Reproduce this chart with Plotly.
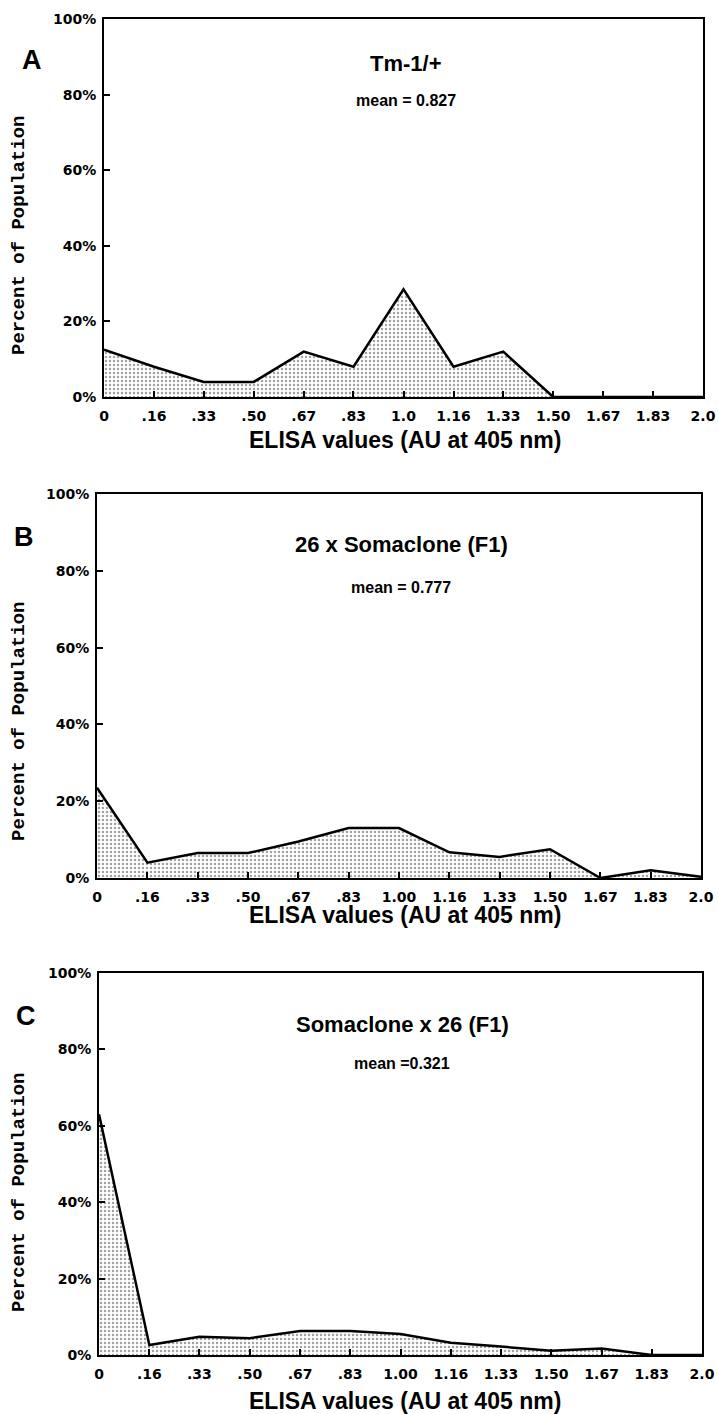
import plotly.graph_objects as go

# ---- data ----
elisa_x = [0, 0.167, 0.333, 0.5, 0.667, 0.833, 1.0, 1.167, 1.333, 1.5, 1.667, 1.833, 2.0]
ticks_A = ["0", ".16", ".33", ".50", ".67", ".83", "1.0", "1.16", "1.33", "1.50", "1.67", "1.83", "2.0"]
ticks_BC = ["0", ".16", ".33", ".50", ".67", ".83", "1.00", "1.16", "1.33", "1.50", "1.67", "1.83", "2.0"]
pct_A = [12.5, 8, 4, 4, 12, 8, 28.5, 8, 12, 0, 0, 0, 0]
pct_B = [23.5, 4, 6.5, 6.5, 9.5, 13, 13, 6.7, 5.5, 7.5, 0, 2, 0.3]
pct_C = [63, 2.6, 4.8, 4.4, 6.3, 6.3, 5.5, 3.2, 2.2, 1.1, 1.7, 0, 0]
y_ticks = [0, 20, 40, 60, 80, 100]
titles = ["Tm-1/+", "26 x Somaclone (F1)", "Somaclone x 26 (F1)"]
means = ["mean = 0.827", "mean = 0.777", "mean =0.321"]
letters = ["A", "B", "C"]

W, H = 719, 1414
# plot boxes in pixels: (left, right, top, bottom)
boxes = [(104, 703, 19, 397), (97, 701, 494, 878), (99, 702, 973, 1355)]
series = [pct_A, pct_B, pct_C]
tick_sets = [ticks_A, ticks_BC, ticks_BC]

def px_x(v):
    return v / W

def px_y(v):
    return 1 - v / H

fig = go.Figure()
layout = dict(width=W, height=H, margin=dict(l=0, r=0, t=0, b=0, autoexpand=False),
              paper_bgcolor="white", plot_bgcolor="white", showlegend=False)
annotations = []
tickfont = dict(family="DejaVu Sans", size=14, color="black", weight="bold")

def note(text, x, y, size, family="Liberation Sans", angle=0):
    annotations.append(dict(text=text, x=px_x(x), y=px_y(y), xref="paper", yref="paper",
                            xanchor="center", yanchor="middle", showarrow=False, textangle=angle,
                            font=dict(family=family, size=size, color="black", weight="bold")))

title_y = [63, 545, 1024]
mean_y = [101, 588, 1063]
letter_xy = [(32, 60), (24, 537), (26, 1016)]
xtitle_y = [440, 915, 1401]
ytitle_y = [236, 722, 1193]

for i, (box, ys, tt) in enumerate(zip(boxes, series, tick_sets)):
    l, r, t, b = box
    n = "" if i == 0 else str(i + 1)
    fig.add_trace(go.Scatter(
        x=elisa_x, y=ys, mode="lines", fill="tozeroy",
        line=dict(color="black", width=2.5),
        fillcolor="white",
        fillpattern=dict(shape=".", fgcolor="#444444", bgcolor="white", size=4, solidity=0.3),
        xaxis="x" + n, yaxis="y" + n, hoverinfo="skip"))
    layout["xaxis" + n] = dict(
        domain=[px_x(l), px_x(r)], anchor="y" + n, range=[0, 2],
        tickmode="array", tickvals=elisa_x, ticktext=tt,
        ticks="inside", ticklen=6, tickwidth=1.5, tickcolor="black",
        showline=True, linewidth=2, linecolor="black", mirror=True,
        showgrid=False, zeroline=False, tickfont=tickfont, ticklabelstandoff=5)
    layout["yaxis" + n] = dict(
        domain=[px_y(b), px_y(t)], anchor="x" + n, range=[0, 100],
        tickmode="array", tickvals=y_ticks, ticktext=[f"{v}%" for v in y_ticks],
        ticks="inside", ticklen=6, tickwidth=1.5, tickcolor="black",
        showline=True, linewidth=2, linecolor="black", mirror=True,
        showgrid=False, zeroline=False, tickfont=tickfont, ticklabelstandoff=3)
    cx = (l + r) / 2 + 2
    note(titles[i], cx, title_y[i], 22)
    note(means[i], cx, mean_y[i], 16)
    note(letters[i], letter_xy[i][0], letter_xy[i][1], 27)
    note("ELISA values (AU at 405 nm)", 405, xtitle_y[i], 23)
    note("Percent of Population", 19, ytitle_y[i], 19, family="Liberation Mono", angle=-90)

layout["annotations"] = annotations
fig.update_layout(**layout)
fig.write_html("out.html")
